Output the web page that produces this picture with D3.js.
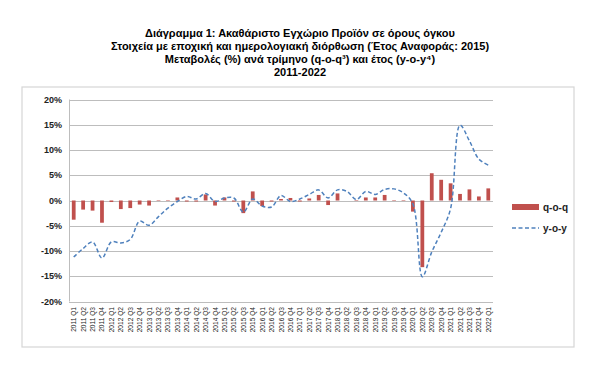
<!DOCTYPE html>
<html lang="el">
<head>
<meta charset="UTF-8">
<title>Διάγραμμα 1</title>
<script src="https://d3js.org/d3.v7.min.js"></script>
<style>
  body { margin: 0; background: #fff; }
  svg { font-family: "Liberation Sans", Arial, sans-serif; }
  .title { font-size: 11px; font-weight: bold; fill: #000; }
  .ytick { font-size: 9px; font-weight: bold; fill: #222; }
  .xtick { font-size: 6.6px; fill: #222; }
  .grid { stroke: #bdbdbd; stroke-width: 1; }
  .legend text { font-size: 10px; font-weight: bold; fill: #222; }
</style>
</head>
<body>
<script>
// quarters 2011 Q1 .. 2022 Q1
const years = d3.range(2011, 2023);
const quarters = [];
years.forEach(y => ["Q1", "Q2", "Q3", "Q4"].forEach(q => {
  if (y < 2022 || q === "Q1") quarters.push(y + " " + q);
}));

// q-o-q change (%)
const qoq = [
  -3.8, -1.8, -2.0, -4.4,
  -0.3, -1.7, -1.5, -0.8,
  -1.0, -0.1, 0.1, 0.6,
  -0.2, -0.2, 1.2, -1.0,
  0.6, -0.2, -2.5, 1.8,
  -1.1, -0.2, 0.3, 0.5,
  -0.2, 0.4, 1.1, -0.9,
  1.4, 0.0, -0.1, 0.6,
  0.6, 1.1, -0.1, 0.1,
  -2.2, -13.2, 5.4, 4.1,
  3.4, 1.3, 2.2, 0.8,
  2.4
];

// y-o-y change (%)
const yoy = [
  -11.2, -9.5, -8.2, -11.4,
  -8.2, -8.4, -7.7, -4.1,
  -4.9, -3.2, -1.5, -0.2,
  0.8, 0.3, 1.4, -0.2,
  0.5, 0.5, -2.3, 0.3,
  -1.1, -1.3, 1.0, -0.2,
  0.3, 1.2, 2.1, 0.5,
  2.1, 1.8, 0.2, 1.8,
  1.2, 2.2, 2.3, 1.5,
  -0.7, -15.1, -10.2, -6.3,
  -1.6, 14.9, 11.8, 8.2,
  7.0
];

const yTicks = [-20, -15, -10, -5, 0, 5, 10, 15, 20];

const titleLines = [
  "Διάγραμμα 1: Ακαθάριστο Εγχώριο Προϊόν σε όρους όγκου",
  "Στοιχεία με εποχική και ημερολογιακή διόρθωση (Έτος Αναφοράς: 2015)",
  "Μεταβολές (%) ανά τρίμηνο (q-o-q³) και έτος (y-o-y⁴)",
  "2011-2022"
];

const width = 600, height = 385;
const plot = { left: 69, right: 493, top: 99.5, bottom: 301.5 };

const svg = d3.select("body").append("svg")
  .attr("width", width)
  .attr("height", height);

// titles
svg.selectAll(".title")
  .data(titleLines)
  .enter().append("text")
  .attr("class", "title")
  .attr("x", 300)
  .attr("y", (d, i) => 36.5 + i * 13.2)
  .attr("text-anchor", "middle")
  .text(d => d);

// chart frame
svg.append("rect")
  .attr("x", 22).attr("y", 87)
  .attr("width", 552).attr("height", 260)
  .attr("fill", "none")
  .attr("stroke", "#d6d6d6")
  .attr("stroke-width", 1.2);

const x = d3.scaleBand()
  .domain(quarters)
  .range([plot.left, plot.right])
  .paddingInner(0.6)
  .paddingOuter(0.3);

const y = d3.scaleLinear()
  .domain([-20, 20])
  .range([plot.bottom, plot.top]);

// grid lines
svg.append("g")
  .selectAll("line")
  .data(yTicks)
  .enter().append("line")
  .attr("class", "grid")
  .attr("x1", plot.left).attr("x2", plot.right)
  .attr("y1", d => Math.round(y(d)) + 0.5)
  .attr("y2", d => Math.round(y(d)) + 0.5);

svg.append("line")
  .attr("class", "grid")
  .attr("x1", plot.left + 0.5).attr("x2", plot.left + 0.5)
  .attr("y1", plot.top).attr("y2", plot.bottom);

// y labels
svg.append("g")
  .selectAll("text")
  .data(yTicks)
  .enter().append("text")
  .attr("class", "ytick")
  .attr("x", 62)
  .attr("y", d => y(d) + 3)
  .attr("text-anchor", "end")
  .text(d => d + "%");

// bars
svg.append("g")
  .selectAll("rect")
  .data(qoq)
  .enter().append("rect")
  .attr("x", (d, i) => x(quarters[i]))
  .attr("width", x.bandwidth())
  .attr("y", d => y(Math.max(0, d)))
  .attr("height", d => Math.abs(y(d) - y(0)))
  .attr("fill", "#c0504d");

// y-o-y line
const line = d3.line()
  .x((d, i) => x(quarters[i]) + x.bandwidth() / 2)
  .y(d => y(d))
  .curve(d3.curveCatmullRom.alpha(0.5));

svg.append("path")
  .datum(yoy)
  .attr("d", line)
  .attr("fill", "none")
  .attr("stroke", "#4f81bd")
  .attr("stroke-width", 1.5)
  .attr("stroke-dasharray", "4,2.5");

// x labels (rotated)
svg.append("g")
  .selectAll("text")
  .data(quarters)
  .enter().append("text")
  .attr("class", "xtick")
  .attr("transform", d => "translate(" + (x(d) + x.bandwidth() / 2 + 2.5) + ",307) rotate(-90)")
  .attr("text-anchor", "end")
  .text(d => d);

// legend
const legend = svg.append("g").attr("class", "legend");
legend.append("rect")
  .attr("x", 512).attr("y", 204)
  .attr("width", 27).attr("height", 6)
  .attr("fill", "#c0504d");
legend.append("text")
  .attr("x", 543).attr("y", 211)
  .text("q-o-q");
legend.append("line")
  .attr("x1", 512).attr("x2", 539)
  .attr("y1", 228).attr("y2", 228)
  .attr("stroke", "#4f81bd")
  .attr("stroke-width", 1.5)
  .attr("stroke-dasharray", "4,2.5");
legend.append("text")
  .attr("x", 543).attr("y", 231.5)
  .text("y-o-y");
</script>
</body>
</html>
